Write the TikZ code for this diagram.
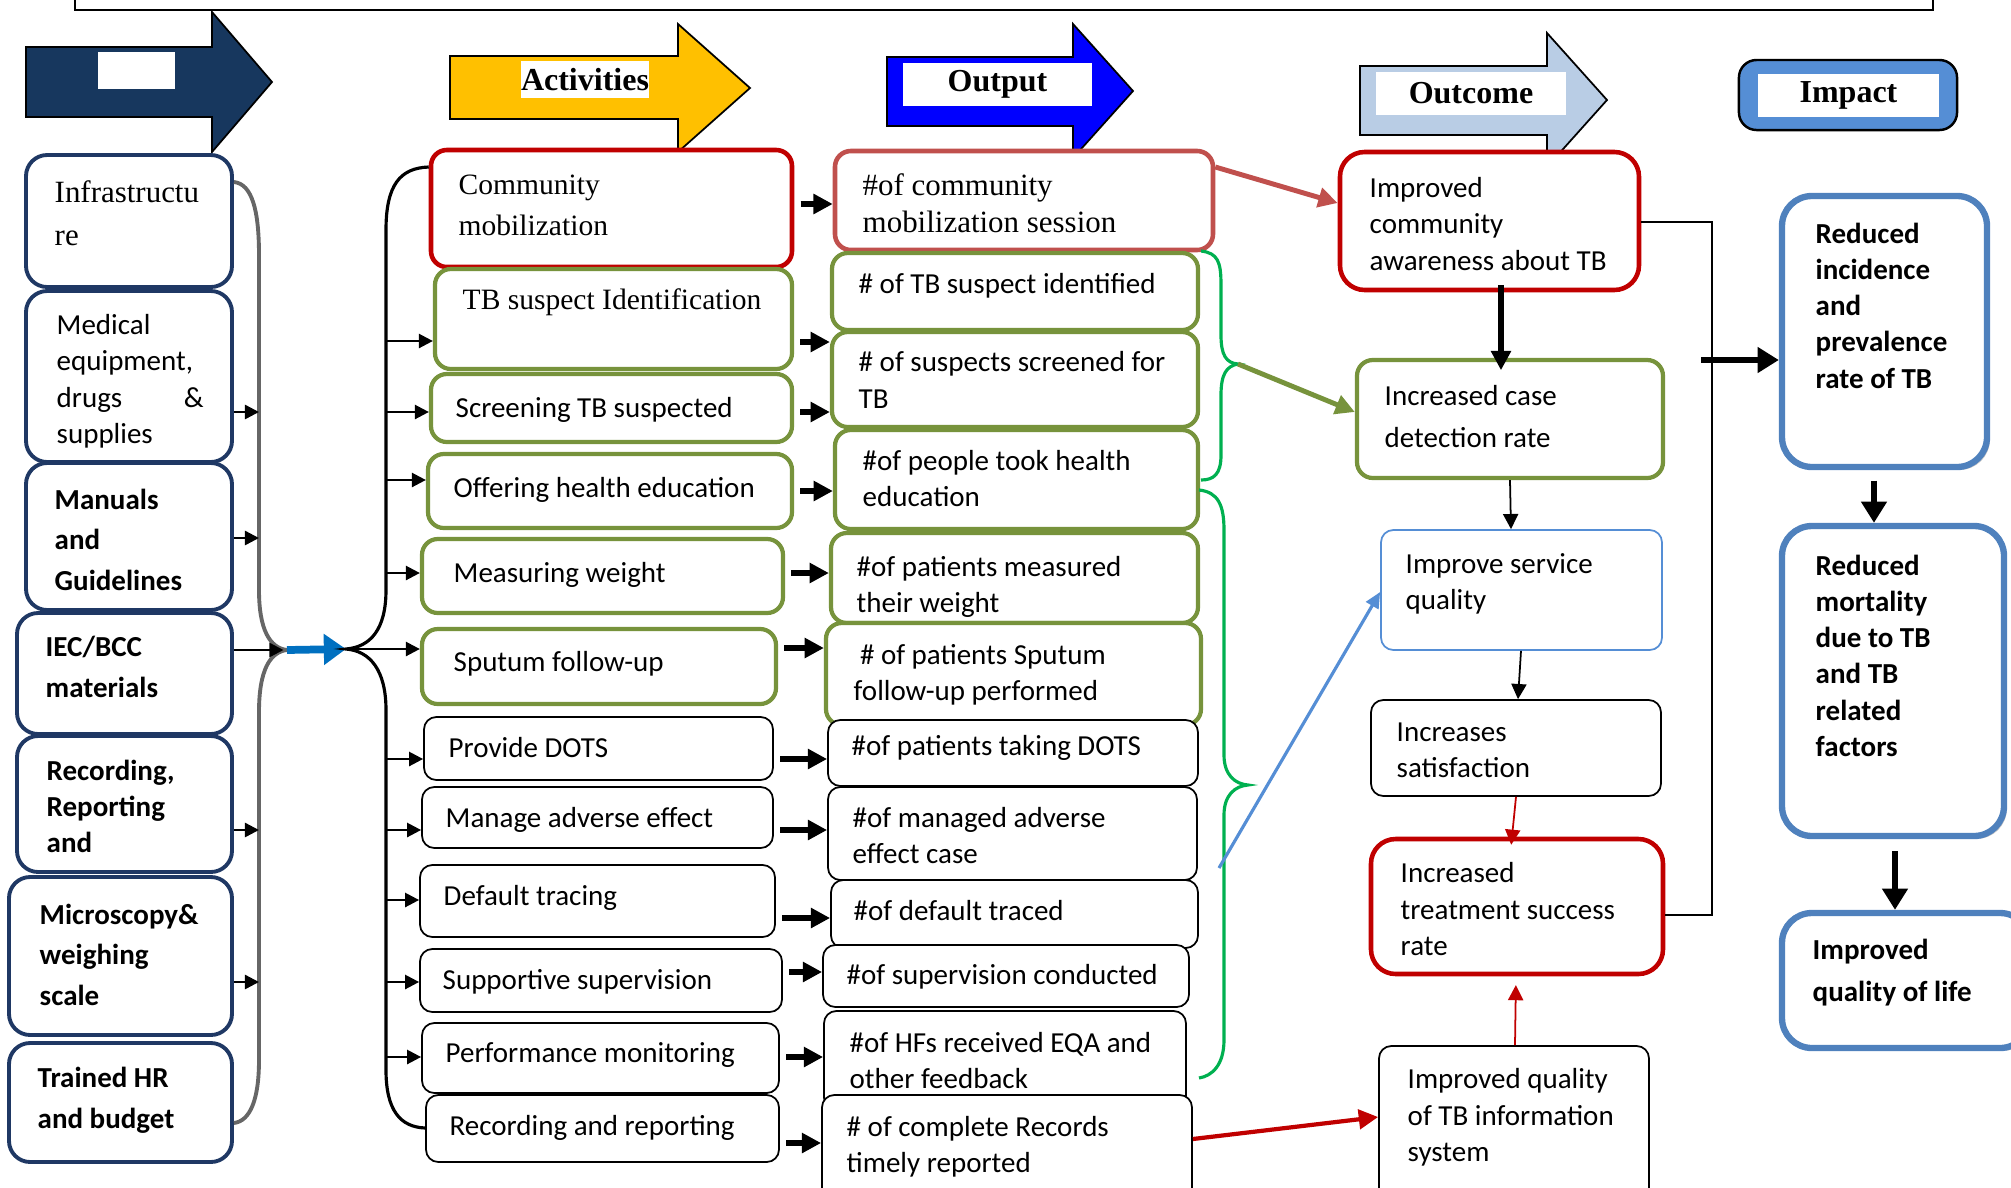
\documentclass[tikz,border=0pt]{standalone}
\usepackage{fontspec}
\setmainfont{Carlito}
\newfontfamily\timesf{Liberation Serif}
\usetikzlibrary{arrows.meta,shadows}
\definecolor{Navy}{HTML}{1F3864}
\definecolor{NavyFill}{HTML}{17375E}
\definecolor{Gold}{HTML}{FFC000}
\definecolor{Pure}{HTML}{0000FF}
\definecolor{Sky}{HTML}{B9CDE5}
\definecolor{ImpFill}{HTML}{558ED5}
\definecolor{ImpLine}{HTML}{4F81BD}
\definecolor{Crim}{HTML}{C00000}
\definecolor{Rose}{HTML}{C0504D}
\definecolor{Olive}{HTML}{77933C}
\definecolor{Leaf}{HTML}{00B050}
\definecolor{Azure}{HTML}{0070C0}
\definecolor{Steel}{HTML}{558ED5}
\definecolor{Slate}{HTML}{666666}

\begin{document}
\begin{tikzpicture}[x=0.01cm,y=-0.01cm,
  inbx/.style={draw=Navy,line width=1.1pt,rounded corners=6pt,fill=white,inner sep=0pt},
  actR/.style={draw=Crim,line width=1.3pt,rounded corners=4.5pt,fill=white,inner sep=0pt},
  actG/.style={draw=Olive,line width=1.2pt,rounded corners=4.5pt,fill=white,inner sep=0pt},
  actK/.style={draw=black,line width=0.5pt,rounded corners=3.5pt,fill=white,inner sep=0pt},
  outR/.style={actR,draw=Rose},
  ocR/.style={actR,rounded corners=7pt},
  ocB/.style={actK,draw=Steel},
  impbx/.style={draw=ImpLine,line width=1.8pt,rounded corners=8.5pt,fill=white,inner sep=0pt,
    drop shadow={shadow xshift=0.8pt,shadow yshift=-0.8pt,opacity=0.45}},
  txc/.style={anchor=base west,inner sep=0pt,align=left,font=\fontsize{8.25pt}{10.24pt}\selectfont},
  txt/.style={txc,font=\timesf\fontsize{8.8pt}{10.8pt}\selectfont},
  txs/.style={txc,font=\timesf\fontsize{8.4pt}{10.8pt}\selectfont},
  txb/.style={txc,font=\bfseries\fontsize{8.25pt}{11.5pt}\selectfont},
  txbi/.style={txc,font=\bfseries\fontsize{8.25pt}{10.24pt}\selectfont},
  hdlab/.style={fill=white,inner sep=0pt,font=\timesf\bfseries\fontsize{9.1pt}{11pt}\selectfont},
  smarr/.style={-{Triangle[length=4pt,width=4pt]},line width=0.7pt},
  bigarr/.style={-{Triangle[length=5.5pt,width=5.5pt]},line width=1.7pt},
  lnarr/.style={-{Triangle[length=4.3pt,width=4.3pt]},line width=0.5pt},
  brace/.style={Leaf,line width=0.9pt}]
  \useasboundingbox (0,0) rectangle (2011,1187);
  \clip (0,0) rectangle (2011,1187);
  \draw[line width=0.5pt] (75,0) -- (75,10) -- (1933,10) -- (1933,0);

  % header arrows
  \filldraw[fill=NavyFill,draw=black,line width=0.5pt] (26,47) -- (212,47) -- (212,12) -- (272,82) -- (212,152) -- (212,117) -- (26,117) -- cycle;
  \filldraw[fill=Gold,draw=black,line width=0.5pt] (450,56) -- (678,56) -- (678,24) -- (750,88) -- (678,152) -- (678,119) -- (450,119) -- cycle;
  \filldraw[fill=Pure,draw=black,line width=0.5pt] (887,57) -- (1073,57) -- (1073,24) -- (1133,91) -- (1073,158) -- (1073,126) -- (887,126) -- cycle;
  \filldraw[fill=Sky,draw=black,line width=0.5pt] (1360,66) -- (1547,66) -- (1547,33) -- (1607,100) -- (1547,167) -- (1547,135) -- (1360,135) -- cycle;
  \node[fill=ImpFill,draw=black,line width=0.7pt,rounded corners=5pt,minimum width=2.18cm,minimum height=0.70cm] (impfr) at (1848,95) {};
  \node[hdlab,minimum width=0.77cm,minimum height=0.37cm] (hdin) at (136.5,70.5) {};
  \node[hdlab,minimum width=1.28cm,minimum height=0.37cm] (hdact) at (585,79.5) {Activities};
  \node[hdlab,minimum width=1.89cm,minimum height=0.43cm] (hdout) at (997.5,84.5) {Output};
  \node[hdlab,minimum width=1.90cm,minimum height=0.43cm] (hdoc) at (1471,93.5) {Outcome};
  \node[hdlab,minimum width=1.81cm,minimum height=0.43cm] (hdimp) at (1848.5,95.5) {Impact};

  % boxes, column by column (text placed at the baseline of its last line)
  \foreach \n/\bst/\tst/\xa/\ya/\xb/\yb/\tx/\ty/\lab in {
    infra/inbx/txt/26/155/232/287/54/245/{Infrastructu\\[1.4pt]re},
    med/inbx/txc/26/291/232/462/56/443/{Medical\\equipment,\\drugs\hspace{17.5pt}\&\\supplies},
    man/inbx/txb/26/463/232/610/54/590/{Manuals\\and\\Guidelines},
    iec/inbx/txb/17/613/232/734/45/697/{IEC/BCC\\materials},
    rec/inbx/txb/17/736/232/872/46/852/{Recording,\\[-1.4pt]Reporting\\[-1.4pt]and},
    mic/inbx/txb/9/877/232/1035/39/1005/{Microscopy\&\\weighing\\scale},
    trn/inbx/txb/9/1043/232/1162/37/1128/{Trained HR\\and budget},
    cm/actR/txs/431/150/792/267/458/235/{Community\\[0.6pt]mobilization},
    tbs/actG/txs/435/269/792/369/462/309/{TB suspect Identification},
    scr/actG/txc/431/374/792/442/455/417/{Screening TB suspected},
    off/actG/txc/428/454/792/528/453/497/{Offering health education},
    mea/actG/txc/422/539/783/613/453/582/{Measuring weight},
    spu/actG/txc/422/629/776/704/453/671/{Sputum follow-up},
    dots/actK/txc/424/717/773/780/448/757/{Provide DOTS},
    adv/actK/txc/422/787/773/848/445/827/{Manage adverse effect},
    dft/actK/txc/420/865/775/937/443/905/{Default tracing},
    sup/actK/txc/420/949/782/1012/442/989/{Supportive supervision},
    per/actK/txc/422/1023/779/1093/445/1062/{Performance monitoring},
    rr/actK/txc/426/1095/779/1162/449/1135/{Recording and reporting},
    ocm/outR/txt/835/151/1213/250/862/232/{\#of community\\[-0.3pt]mobilization session},
    otb/actG/txc/832/253/1198/330/858/293/{\# of TB suspect identified},
    osc/actG/txc/832/332/1198/427/858/408/{\# of suspects screened for\\TB},
    ohe/actG/txc/835/430/1198/529/862/506/{\#of people took health\\education},
    omw/actG/txc/831/533/1198/623/856/612/{\#of patients measured\\their weight},
    osp/actG/txc/826/623/1201/725/853/700/{\kern1.8pt\# of patients Sputum\\follow-up performed},
    odt/actK/txc/828/720/1198/786/851/755/{\#of patients taking DOTS},
    oad/actK/txc/828/787/1197/880/852/863/{\#of managed adverse\\effect case},
    odf/actK/txc/831/880/1198/948/853/920/{\#of default traced},
    osv/actK/txc/823/945/1189/1007/846/984/{\#of supervision conducted},
    oeq/actK/txc/824/1011/1186/1110/849/1088/{\#of HFs received EQA and\\other feedback},
    orc/actK/txc/822/1095/1192/1200/846/1172/{\# of complete Records\\timely reported},
    aw/ocR/txc/1340/152/1639/290/1369/270/{Improved\\community\\awareness about TB},
    cd/actG/txc/1357/360/1663/478/1384/447/{Increased case\\[1.7pt]detection rate},
    sq/ocB/txc/1381/530/1662/650/1405/609/{Improve service\\quality},
    sat/actK/txc/1371/700/1661/796/1396/777/{Increases\\satisfaction},
    tsr/ocR/txc/1371/839/1663/974/1400/955/{Increased\\treatment success\\rate},
    isys/actK/txc/1379/1046/1649/1200/1407/1161/{Improved quality\\of TB information\\system},
    ri/impbx/txbi/1782/196/1987/467/1815/388/{Reduced\\incidence\\and\\prevalence\\rate of TB},
    rm/impbx/txbi/1782/526/2004/836/1815/756/{Reduced\\mortality\\due to TB\\and TB\\related\\factors},
    ql/impbx/txbi/1782/913/2030/1048/1812/1001/{Improved\\[1.7pt]quality of life}} {
    \node[\bst,minimum width={(\xb-\xa)*0.01cm},minimum height={(\yb-\ya)*0.01cm}] (\n) at ({(\xa+\xb)/2},{(\ya+\yb)/2}) {};
    \node[\tst] (\n-t) at (\tx,\ty) {\lab};
  }

  % inputs into the grey brace
  \coordinate (inmeet) at (287,650);
  \coordinate (actmeet) at (346,649);
  \coordinate (brk) at (386,0);
  \draw[Slate,line width=1.1pt] (infra.east |- 0,182) .. controls (252,184) and (259,210) .. (259,255) -- (259,590)
    .. controls (259,630) and (270,648) .. (inmeet) .. controls (270,652) and (259,670) .. (259,712) -- (259,1060)
    .. controls (259,1100) and (250,1121) .. (trn.east |- 0,1123);
  \foreach \n/\y in {med/412,man/538,rec/830,mic/982}
    \draw[smarr] (\n.east |- 0,\y) -- (259,\y);
  \draw[smarr,shorten >=1pt] (iec.east |- inmeet) -- (inmeet);
  \draw[-{Triangle[length=6.3pt,width=8.5pt]},Azure,line width=2.2pt] (inmeet) -- (actmeet);

  % black brace to activities
  \draw[line width=0.9pt] (cm.west |- 0,167) .. controls (400,168) and (386,185) .. (386,230) -- (386,590)
    .. controls (386,630) and (370,647) .. (actmeet) .. controls (370,651) and (386,670) .. (386,710) -- (386,1070)
    .. controls (386,1110) and (400,1127) .. (rr.west |- 0,1128);
  \foreach \n/\y in {tbs/341,scr/412,off/480,mea/573,dots/759,adv/830,dft/900,sup/982,per/1057}
    \draw[smarr] (brk |- 0,\y) -- (\n.west |- 0,\y);
  \draw[smarr] (actmeet) -- (spu.west |- actmeet);

  % activities to outputs
  \foreach \a/\b/\y in {cm/ocm/204,tbs/osc/342,scr/osc/412,off/ohe/491,mea/omw/573,spu/osp/648,
    dots/odt/759,adv/oad/830,dft/odf/918,sup/osv/972,per/oeq/1057,rr/orc/1143}
    \draw[bigarr,shorten <=1.8pt] (\a.east |- 0,\y) -- (\b.west |- 0,\y);

  % green braces on outputs
  \coordinate (brtip) at (1238,364);
  \coordinate (brtip2) at (1248,785);
  \coordinate (sqfoot) at (1219,868);
  \draw[brace] (1201,251) .. controls (1218,253) and (1221,262) .. (1221,285) -- (1221,335)
    .. controls (1221,355) and (1226,363) .. (brtip) .. controls (1226,366) and (1221,375) .. (1221,395) -- (1221,455)
    .. controls (1221,474) and (1214,480) .. (1201,480);
  \draw[brace] (1199,490) .. controls (1218,492) and (1224,505) .. (1224,530) -- (1224,755)
    .. controls (1224,775) and (1235,784) .. (brtip2) .. controls (1235,786) and (1224,795) .. (1224,815) -- (1224,1040)
    .. controls (1224,1065) and (1212,1076) .. (1199,1078);

  % outputs to outcomes
  \draw[bigarr,Rose,line width=1.4pt] (ocm.east |- 0,167) -- (aw.west |- 0,203);
  \draw[bigarr,Olive,line width=1.4pt] (brtip) -- (cd.west |- 0,412);
  \draw[-{Triangle[length=4.5pt,width=4pt]},Steel,line width=0.9pt] (sqfoot) -- (sq.west |- 0,592);
  \draw[bigarr,Crim,line width=1.2pt] (orc.east |- 0,1139) -- (isys.west |- 0,1117);

  % outcome chain
  \draw[bigarr,line width=1.5pt,shorten <=-2pt,shorten >=-3.5pt] (aw.south -| 1501,0) -- (cd.north -| 1501,0);
  \draw[lnarr] (cd.south -| 1510,0) -- (sq.north -| 1511,0);
  \draw[lnarr] (sq.south -| 1521,0) -- (sat.north -| 1518,0);
  \draw[lnarr,Crim,shorten >=-2.3pt] (sat.south -| 1516,0) -- (tsr.north -| 1512,0);
  \draw[lnarr,Crim,shorten >=2.5pt] (isys.north -| 1515,0) -- (tsr.south -| 1516,0);
  \draw[line width=0.5pt] (aw.east |- 0,222) -- ++(71,0) |- (tsr.east |- 0,915);

  % impact
  \coordinate (jn) at (1701,360);
  \draw[-{Triangle[length=6pt,width=7pt]},line width=1.9pt] (jn) -- (ri.west |- jn);
  \draw[-{Triangle[length=6pt,width=7pt]},line width=1.9pt,shorten <=3pt] (ri.south -| 1874,0) -- (rm.north -| 1874,0);
  \draw[-{Triangle[length=6pt,width=7pt]},line width=1.9pt,shorten <=3.4pt] (rm.south -| 1895,0) -- (ql.north -| 1895,0);
\end{tikzpicture}
\end{document}
